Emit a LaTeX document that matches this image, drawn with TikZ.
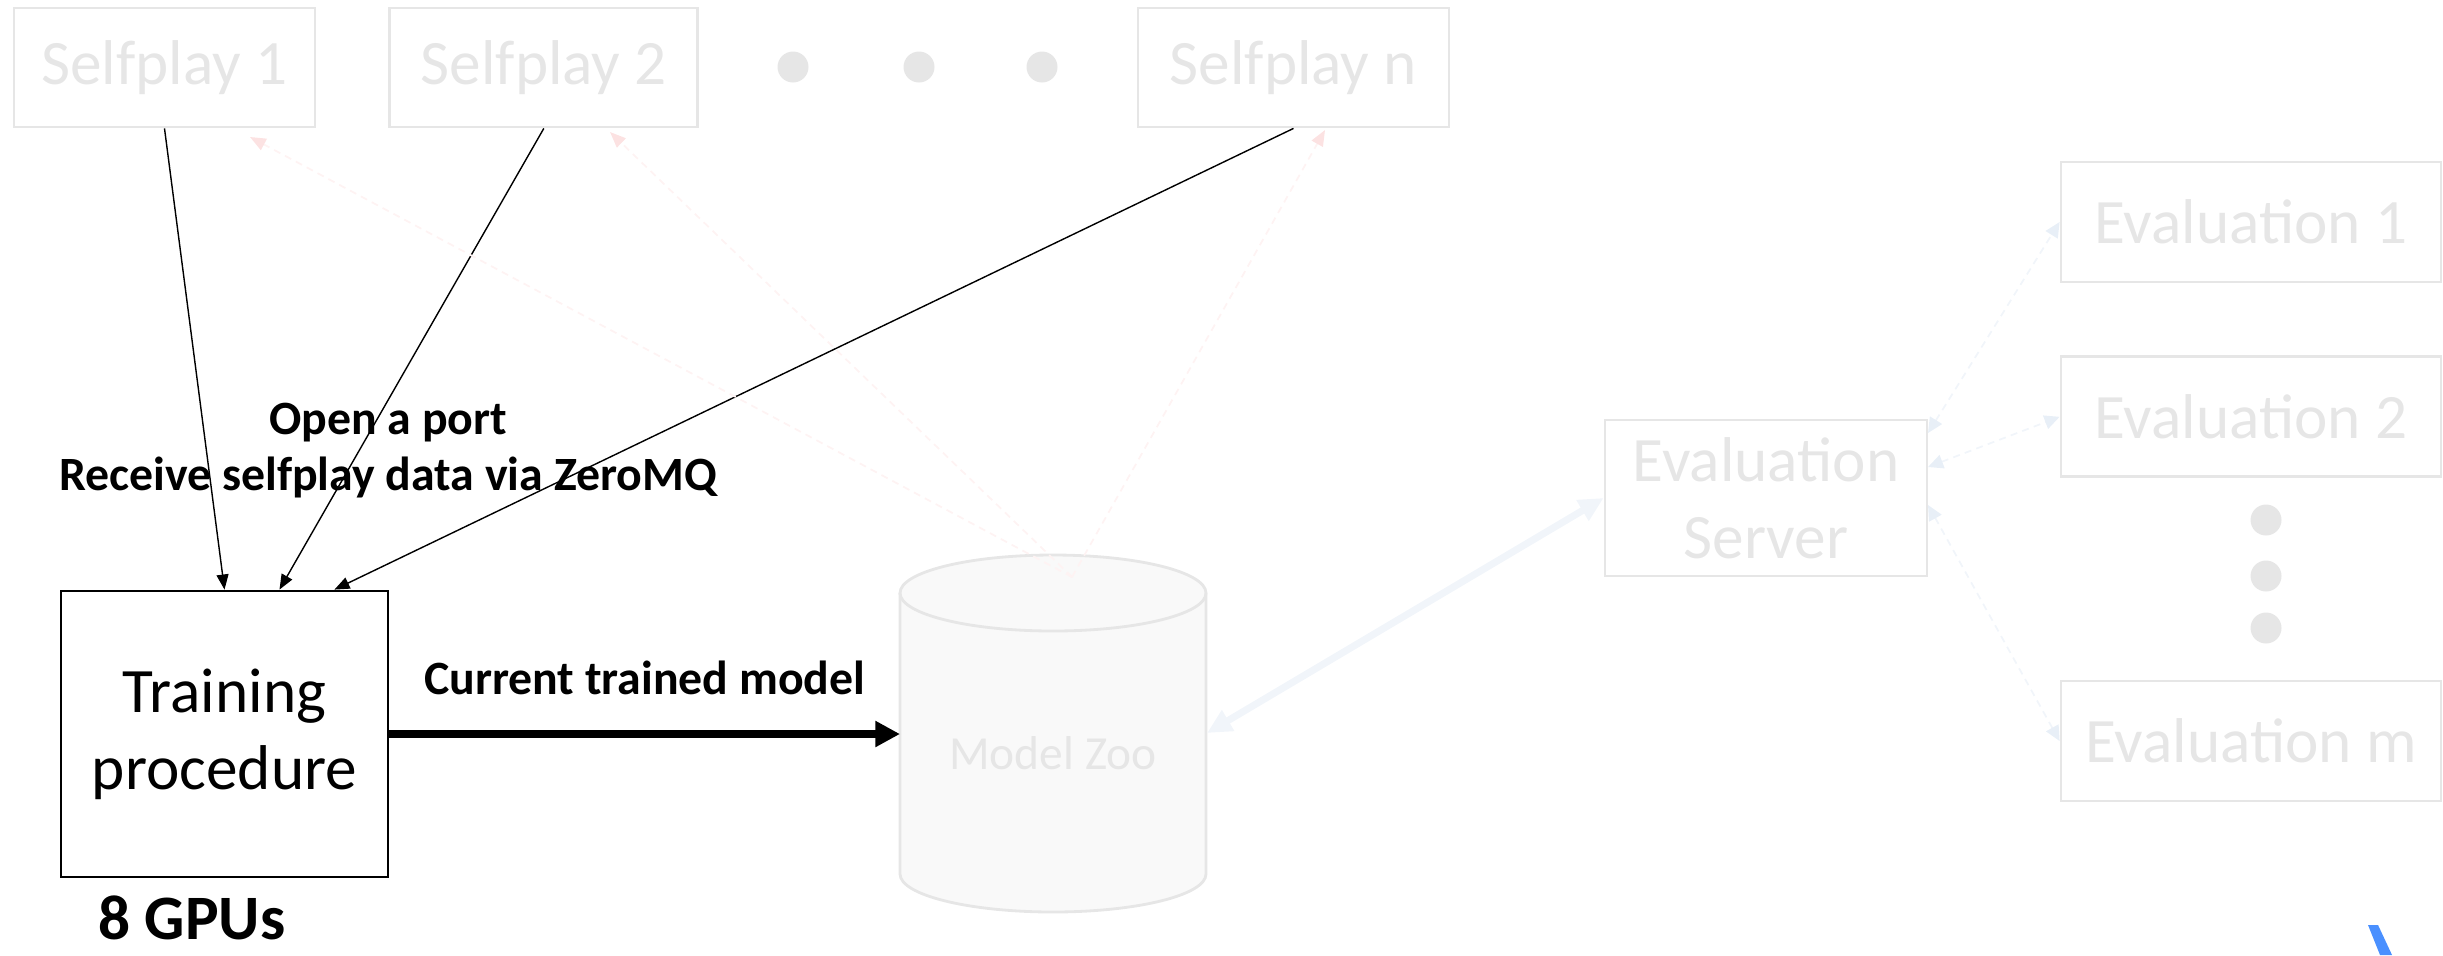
\documentclass[tikz,border=0pt]{standalone}
\usepackage{fontspec}
\setmainfont{Carlito}
\usetikzlibrary{arrows.meta,positioning,calc}
\definecolor{faintgray}{HTML}{E6E6E6}
\definecolor{zoofill}{HTML}{F9F9F9}
\definecolor{faintpink}{HTML}{FCE2E2}
\definecolor{palepink}{HTML}{FEF3F3}
\definecolor{faintblue}{HTML}{E8EFF7}
\definecolor{paleblue}{HTML}{F1F5FA}
\definecolor{markblue}{HTML}{4A90FF}

\begin{document}
\begin{tikzpicture}[>=Triangle, node distance=0.72cm,
    faintbox/.style={rectangle, draw=faintgray, line width=0.8pt, text=faintgray, font=\fontsize{18}{22}\selectfont, inner sep=0pt},
    faintdot/.style={circle, fill=faintgray, minimum size=0.31cm, inner sep=0pt},
    feed/.style={-{Triangle[length=4.3pt,width=3.4pt]}, line width=0.4pt},
    pull/.style={-{Triangle[length=4.5pt,width=3.6pt,color=faintpink]}, draw=palepink, line width=0.5pt, dash pattern=on 2pt off 1.5pt},
    sync/.style={{Triangle[length=4.3pt,width=4pt,color=faintblue]}-{Triangle[length=4.3pt,width=4pt,color=faintblue]}, draw=paleblue, line width=0.5pt, dash pattern=on 2pt off 1.5pt}]

    \useasboundingbox (0,0) rectangle (24.43,-9.55);

    % Selfplay workers
    \node (sp1) [faintbox, minimum width=3.01cm, minimum height=1.19cm] at (1.645,-0.675) {Selfplay 1};
    \node[right=of sp1] (sp2) [faintbox, minimum width=3.08cm, minimum height=1.19cm] {Selfplay 2};
    \node (spn) [faintbox, minimum width=3.11cm, minimum height=1.19cm] at (12.935,-0.675) {Selfplay n};
    \foreach \x [count=\i] in {7.93,9.19,10.42}
        \node (hdot\i) [faintdot] at (\x,-0.67) {};

    % Trainer
    \node (train) [rectangle, draw, line width=0.8pt, minimum width=3.27cm, minimum height=2.86cm, align=center, font=\fontsize{18}{22}\selectfont] at (2.245,-7.34) {Training\\procedure};
    \node (gpus) [font=\fontsize{18}{22}\selectfont\bfseries] at (1.92,-9.18) {8 GPUs};
    \node (port) [anchor=north, inner sep=0pt, align=center, font=\fontsize{13.6}{16.2}\selectfont\bfseries] at (3.88,-4.02) {Open a port\\Receive selfplay data via ZeroMQ};

    % Model zoo
    \filldraw[fill=zoofill, draw=faintgray, line width=0.8pt] (9.00,-5.93) -- (9.00,-8.74)
        arc[start angle=180, end angle=360, x radius=1.53cm, y radius=0.38cm] -- (12.06,-5.93)
        arc[start angle=0, end angle=180, x radius=1.53cm, y radius=0.38cm] -- cycle;
    \draw[faintgray, line width=0.8pt] (9.00,-5.93) arc[start angle=180, end angle=360, x radius=1.53cm, y radius=0.38cm];
    \node (zoo) [text=faintgray, font=\fontsize{13.5}{16}\selectfont] at (10.53,-7.53) {Model Zoo};
    \coordinate (zooW) at (9.00,-7.34);
    \coordinate (zooE) at (12.07,-7.33);
    \coordinate (zooTop) at (10.72,-5.77);

    % Evaluation
    \node (srv) [faintbox, minimum width=3.22cm, minimum height=1.56cm, align=center] at (17.66,-4.98) {Evaluation\\Server};
    \node (ev1) [faintbox, minimum width=3.80cm, minimum height=1.20cm] at (22.51,-2.22) {Evaluation 1};
    \node[below=of ev1] (ev2) [faintbox, minimum width=3.80cm, minimum height=1.20cm] {Evaluation 2};
    \node (evm) [faintbox, minimum width=3.80cm, minimum height=1.20cm] at (22.51,-7.41) {Evaluation m};
    \foreach \y [count=\i] in {5.20,5.76,6.28}
        \node (vdot\i) [faintdot] at (22.66,-\y) {};

    % Selfplay data
    \coordinate (in2) at ($(train.north)!1/3!(train.north east)$);
    \coordinate (in3) at ($(train.north)!2/3!(train.north east)$);
    \draw[feed] (sp1.south) -- (train.north);
    \draw[feed] (sp2.south) -- (in2);
    \draw[feed] (spn.south) -- (in3);

    % Trained model
    \draw[-{Triangle[length=7pt,width=7pt]}, line width=2.3pt] (train.east) -- node[above=0.35cm, inner sep=0pt, font=\fontsize{13.6}{16}\selectfont\bfseries] (cur) {Current trained model} (zooW);

    % Models back to selfplay
    \coordinate (sp1in) at (2.50,-1.37);
    \coordinate (sp2in) at (6.10,-1.32);
    \coordinate (spnin) at (13.25,-1.30);
    \draw[pull] (zooTop) -- (sp1in);
    \draw[pull] (zooTop) -- (sp2in);
    \draw[pull] (zooTop) -- (spnin);

    % Zoo and evaluation
    \draw[{Triangle[length=7pt,width=6.5pt]}-{Triangle[length=7pt,width=6.5pt]}, line width=2pt, draw=paleblue] (zooE) -- (srv.west);
    \coordinate (s1) at (19.28,-4.33);
    \coordinate (s2) at (19.28,-4.67);
    \coordinate (s3) at (19.28,-5.05);
    \draw[sync] (s1) -- (ev1.west);
    \draw[sync] (s2) -- (ev2.west);
    \draw[sync] (s3) -- (evm.west);

    % corner mark
    \fill[markblue] (23.68,-9.25) -- (23.78,-9.25) -- (23.92,-9.55) -- (23.80,-9.55) -- cycle;

\end{tikzpicture}
\end{document}
